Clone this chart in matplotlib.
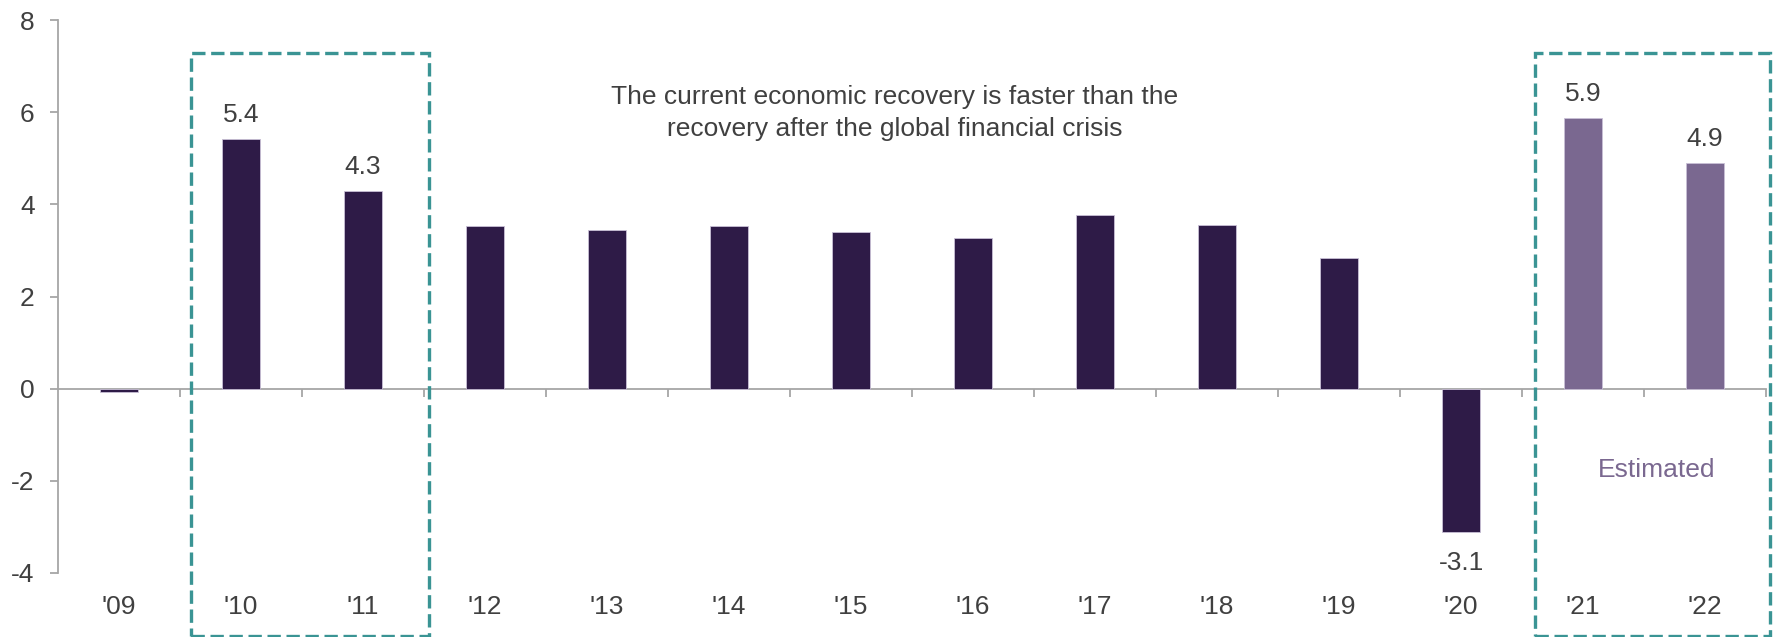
import matplotlib
matplotlib.use("Agg")
import matplotlib.pyplot as plt
from matplotlib.patches import Rectangle

plt.rcParams['font.family'] = ['Liberation Sans', 'DejaVu Sans']

# ---- data ----
years = ["'09", "'10", "'11", "'12", "'13", "'14", "'15", "'16", "'17", "'18", "'19", "'20", "'21", "'22"]
growth = [-0.08, 5.42, 4.29, 3.54, 3.45, 3.52, 3.41, 3.28, 3.76, 3.56, 2.83, -3.12, 5.88, 4.90]
estimated = [False] * 12 + [True, True]
value_labels = {1: "5.4", 2: "4.3", 11: "-3.1", 12: "5.9", 13: "4.9"}
y_ticks = [-4, -2, 0, 2, 4, 6, 8]
note_text = "The current economic recovery is faster than the\nrecovery after the global financial crisis"
estimated_text = "Estimated"

# ---- style ----
DARK = '#2E1B47'
LIGHT = '#7A6890'
TEAL = '#3A9494'
GRAY = '#A6A6A6'
TXT = '#404040'
FS = 19

W, H = 1779, 637
fig = plt.figure(figsize=(W / 100, H / 100), dpi=100)
ax = fig.add_axes([58 / W, 1 - 573 / H, (1766 - 58) / W, (573 - 20) / H])

x = list(range(len(years)))
colors = [LIGHT if e else DARK for e in estimated]
ax.bar(x, growth, width=0.31, color=colors, edgecolor='#C9C0D6', linewidth=0.6, zorder=3)

ax.set_xlim(-0.5, len(years) - 0.5)
ax.set_ylim(-4, 8)

# spines
for s in ['top', 'right']:
    ax.spines[s].set_visible(False)
ax.spines['left'].set_color(GRAY)
ax.spines['left'].set_linewidth(1.3)
ax.spines['bottom'].set_position(('data', 0))
ax.spines['bottom'].set_color(GRAY)
ax.spines['bottom'].set_linewidth(1.3)

ax.set_yticks(y_ticks)
ax.set_yticklabels([str(v) for v in y_ticks])
ax.tick_params(axis='y', length=5.8, width=1.3, color=GRAY, pad=11, labelsize=FS, labelcolor=TXT)

bounds = [i + 0.5 for i in range(len(years))]
ax.set_xticks(bounds)
ax.set_xticklabels([])
ax.tick_params(axis='x', length=6, width=1.3, color=GRAY, direction='out')

# category labels at the bottom
xt = ax.get_xaxis_transform()
for i, lab in enumerate(years):
    ax.text(i, -0.062, lab, transform=xt, ha='center', va='center', fontsize=FS, color=TXT)

# value labels
for i, lab in value_labels.items():
    v = growth[i]
    if v >= 0:
        ax.annotate(lab, (i, v), xytext=(0, 12), textcoords='offset points',
                    ha='center', va='baseline', fontsize=FS, color=TXT)
    else:
        ax.annotate(lab, (i, v), xytext=(0, -27), textcoords='offset points',
                    ha='center', va='baseline', fontsize=FS, color=TXT)

# note text
ax.text(6.36, 5.98, note_text, ha='center', va='center', fontsize=FS, color=TXT, linespacing=1.45)
ax.text(12.6, -1.76, estimated_text, ha='center', va='center', fontsize=FS, color=LIGHT)

# dashed boxes
for x0, x1 in [(0.59, 2.54), (11.61, 13.53)]:
    r = Rectangle((x0, -5.36), x1 - x0, 7.29 + 5.36, fill=False, edgecolor=TEAL,
                  linewidth=2.4, linestyle=(0, (4.0, 1.7)), clip_on=False, zorder=5,
                  joinstyle='miter')
    ax.add_patch(r)

fig.savefig('out.png', dpi=100, facecolor='white')
